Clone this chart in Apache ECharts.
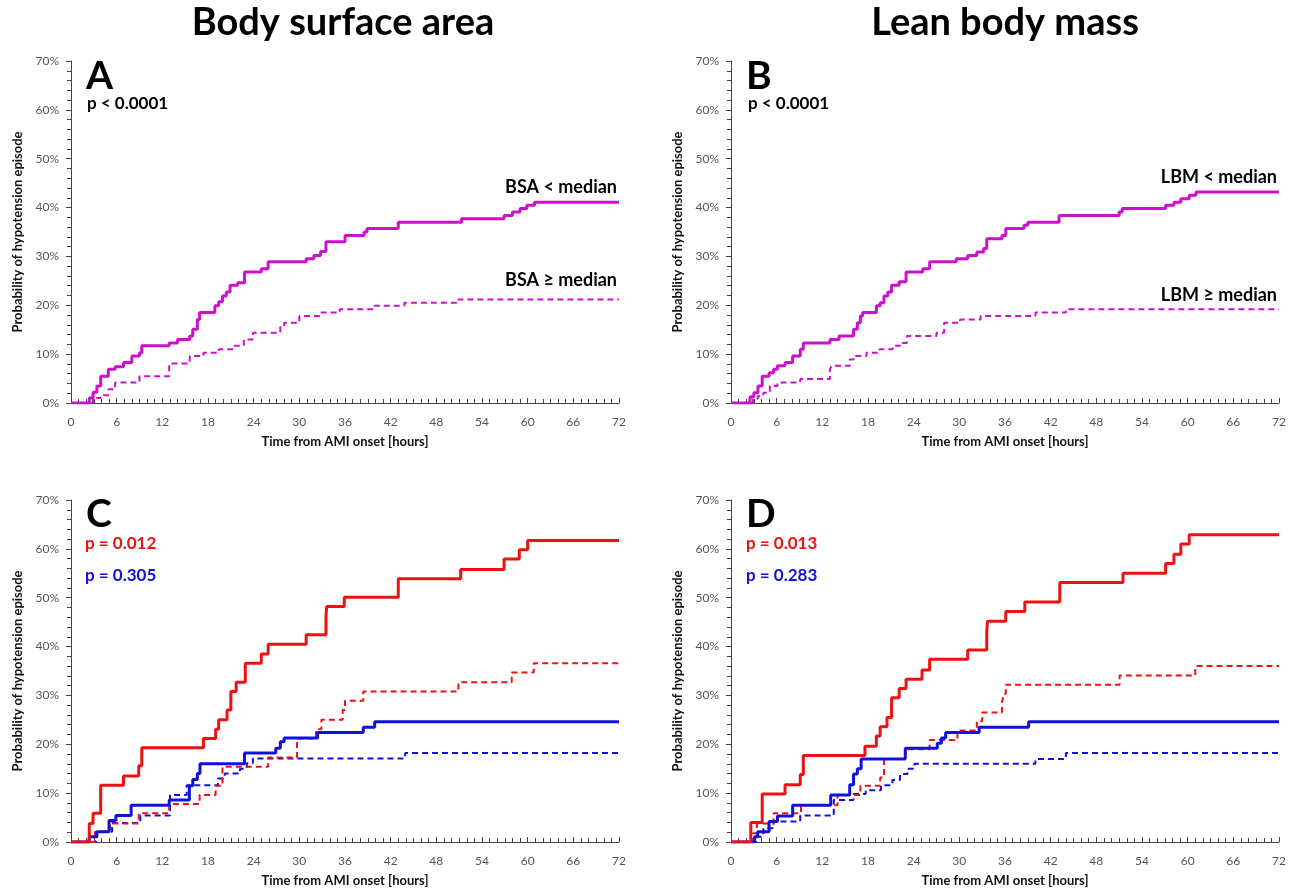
<!DOCTYPE html>
<html>
<head>
<meta charset="utf-8">
<script src="https://cdn.jsdelivr.net/npm/echarts@6/dist/echarts.min.js"></script>
<style>
  html, body { margin: 0; padding: 0; background: #fff; }
  #chart { width: 1298px; height: 888px; }
</style>
</head>
<body>
<div id="chart"></div>
<script>
// hours / cumulative probability (%)
// A: body surface area
const hoursBsaLow = [0, 2.4, 2.9, 3.4, 3.9, 4.9, 5.8, 6.9, 8.0, 9.0, 9.3, 12.9, 14.0, 15.6, 16.0, 16.6, 16.9, 18.9, 19.4, 19.9, 20.4, 20.9, 21.9, 22.8, 25.0, 25.9, 30.9, 31.9, 32.8, 33.5, 36.0, 38.5, 38.9, 43.0, 51.3, 56.9, 58.0, 59.0, 59.9, 60.9, 72];
const probBsaLow = [0, 1.0, 2.2, 3.5, 5.5, 6.9, 7.4, 8.3, 9.6, 10.3, 11.7, 12.3, 13.0, 13.7, 15.1, 17.1, 18.5, 19.9, 20.7, 21.9, 22.7, 24.1, 24.6, 26.8, 27.5, 28.9, 29.5, 30.2, 31.0, 33.0, 34.3, 35.0, 35.7, 37.0, 37.7, 38.4, 39.1, 39.8, 40.5, 41.1, 41.1];
const hoursBsaHigh = [0, 2.9, 3.9, 4.9, 5.8, 9.0, 12.9, 15.6, 17.4, 19.4, 21.2, 22.7, 23.9, 27.5, 28.0, 30.0, 32.6, 35.3, 39.9, 43.8, 50.9, 72];
const probBsaHigh = [0, 1.0, 1.6, 2.8, 4.2, 5.5, 8.1, 9.6, 10.3, 11.0, 11.7, 13.0, 14.4, 15.8, 16.4, 17.8, 18.5, 19.2, 19.9, 20.5, 21.2, 21.2];

// B: lean body mass
const hoursLbmLow = [0, 2.5, 3.0, 3.55, 4.1, 5.0, 5.6, 6.1, 7.1, 8.1, 9.1, 9.5, 13.0, 14.2, 16.1, 16.6, 17.0, 17.3, 19.1, 19.6, 20.1, 20.6, 21.1, 22.1, 23.0, 25.2, 26.1, 29.6, 31.1, 32.3, 33.2, 33.6, 35.6, 36.1, 38.5, 39.0, 43.1, 51.0, 51.4, 57.1, 58.2, 59.1, 60.2, 61.1, 72];
const probLbmLow = [0, 1.3, 2.1, 3.5, 5.5, 6.2, 6.9, 7.6, 8.3, 9.6, 11.0, 12.3, 13.0, 13.7, 15.1, 16.4, 17.8, 18.5, 19.9, 20.5, 21.9, 22.7, 24.1, 24.8, 26.8, 27.5, 28.9, 29.5, 30.2, 30.9, 31.6, 33.6, 34.3, 35.7, 36.4, 37.0, 38.4, 39.1, 39.8, 40.5, 41.1, 41.8, 42.5, 43.2, 43.2];
const hoursLbmHigh = [0, 2.9, 3.5, 4.25, 5.1, 6.1, 9.1, 13.0, 13.2, 15.6, 16.1, 17.8, 19.5, 21.25, 22.2, 23.1, 27.0, 28.0, 30.1, 32.8, 40.0, 44.0, 72];
const probLbmHigh = [0, 0.8, 1.4, 2.1, 3.5, 4.2, 4.9, 6.9, 7.6, 8.9, 9.6, 10.3, 11.0, 11.7, 12.3, 13.7, 14.4, 16.4, 17.1, 17.8, 18.5, 19.2, 19.2];

// C: BSA split by sex (red / blue)
const hoursC_redLow = [0, 2.4, 2.9, 3.9, 6.9, 8.9, 9.3, 17.4, 19.0, 19.4, 20.5, 21.0, 21.7, 22.9, 25.0, 25.9, 30.9, 33.5, 33.6, 35.9, 43.0, 51.2, 56.9, 58.9, 60.0, 72];
const probC_redLow = [0, 3.8, 5.9, 11.6, 13.5, 15.6, 19.3, 21.2, 23.1, 25.0, 27.0, 30.8, 32.7, 36.6, 38.5, 40.5, 42.4, 46.3, 48.2, 50.1, 53.9, 55.8, 57.9, 59.8, 61.7, 61.7];
const hoursC_redHigh = [0, 3.15, 5.1, 8.9, 12.9, 16.9, 19.0, 19.9, 25.9, 29.7, 32.2, 32.9, 35.7, 36.0, 38.4, 50.9, 57.9, 60.8, 72];
const probC_redHigh = [0, 2.1, 3.8, 5.9, 7.8, 9.6, 11.5, 15.4, 17.3, 21.2, 23.1, 25.0, 27.0, 28.9, 30.8, 32.7, 34.7, 36.6, 36.6];
const hoursC_blueLow = [0, 2.4, 3.4, 5.0, 5.9, 7.9, 12.9, 15.55, 16.0, 16.6, 16.95, 22.8, 26.9, 27.5, 28.0, 32.4, 38.4, 39.9, 72];
const probC_blueLow = [0, 1.1, 2.1, 4.4, 5.4, 7.5, 8.6, 11.5, 12.8, 14.0, 16.0, 18.2, 19.2, 20.5, 21.3, 22.4, 23.5, 24.6, 24.6];
const hoursC_blueHigh = [0, 3.4, 5.4, 9.1, 13.0, 15.2, 19.3, 20.2, 22.2, 23.1, 23.9, 43.9, 72];
const probC_blueHigh = [0, 2.1, 3.9, 5.4, 9.6, 11.6, 13.0, 14.0, 15.0, 16.1, 17.1, 18.2, 18.2];

// D: LBM split by sex
const hoursD_redLow = [0, 2.6, 4.1, 7.1, 9.1, 9.5, 17.6, 19.1, 19.6, 20.5, 21.1, 22.1, 23.0, 25.1, 26.1, 31.1, 33.6, 33.7, 36.1, 38.6, 43.2, 51.5, 57.1, 58.2, 59.1, 60.2, 72];
const probD_redLow = [0, 4.0, 9.8, 11.7, 13.8, 17.7, 19.6, 21.7, 23.6, 25.5, 29.5, 31.4, 33.3, 35.2, 37.4, 39.3, 43.1, 45.2, 47.2, 49.1, 53.1, 55.0, 57.0, 58.9, 61.0, 62.9, 62.9];
const hoursD_redHigh = [0, 2.9, 3.4, 5.6, 9.2, 14.0, 17.0, 19.6, 20.1, 22.9, 26.1, 29.75, 32.3, 33.0, 35.6, 35.8, 36.1, 51.05, 61.0, 72];
const probD_redHigh = [0, 1.8, 3.8, 5.9, 7.5, 9.6, 11.5, 13.2, 17.0, 19.0, 20.9, 22.8, 24.7, 26.5, 28.4, 30.3, 32.2, 34.1, 36.0, 36.0];
const hoursD_blueLow = [0, 3.1, 3.5, 5.0, 6.1, 8.1, 13.1, 15.6, 16.1, 16.6, 17.1, 22.9, 27.1, 27.65, 28.2, 32.6, 39.1, 72];
const probD_blueLow = [0, 1.1, 2.1, 4.2, 5.3, 7.5, 9.6, 11.7, 13.9, 15.0, 17.0, 19.2, 20.2, 21.3, 22.4, 23.5, 24.6, 24.6];
const hoursD_blueHigh = [0, 3.3, 4.25, 5.6, 9.1, 13.5, 16.1, 17.7, 19.7, 21.2, 22.2, 23.2, 24.1, 40.0, 44.0, 72];
const probD_blueHigh = [0, 1.1, 2.8, 4.2, 5.4, 8.6, 9.8, 10.6, 11.6, 12.7, 13.9, 15.0, 16.0, 17.0, 18.2, 18.2];

const FONT = "Lato, 'Noto Sans', sans-serif";
const MAGENTA = "#cc11cc";
const RED = "#ee1111";
const BLUE = "#1111dd";

const grids = [
  { left: 71, top: 61, width: 548, height: 342 },
  { left: 731, top: 61, width: 548, height: 342 },
  { left: 71, top: 500, width: 548, height: 342 },
  { left: 731, top: 500, width: 548, height: 342 }
];

function zip(t, p) {
  return t.map((h, i) => [h, p[i]]);
}

function xAxisFor(i) {
  return {
    gridIndex: i,
    type: "value",
    min: 0,
    max: 72,
    interval: 6,
    name: "Time from AMI onset [hours]",
    nameLocation: "middle",
    nameGap: 32,
    nameTextStyle: { fontFamily: FONT, fontWeight: "bold", fontSize: 13, color: "#111" },
    axisLine: { lineStyle: { color: "#444", width: 1 } },
    axisTick: { inside: true, length: 5, lineStyle: { color: "#444" } },
    minorTick: { show: true, splitNumber: 6, length: 4, lineStyle: { color: "#444" } },
    axisLabel: { fontFamily: FONT, fontSize: 12, color: "#555", margin: 13 },
    splitLine: { show: false }
  };
}

function yAxisFor(i) {
  return {
    gridIndex: i,
    type: "value",
    min: 0,
    max: 70,
    interval: 10,
    name: "Probability of hypotension episode",
    nameLocation: "middle",
    nameRotate: 90,
    nameGap: 47,
    nameTextStyle: { fontFamily: FONT, fontWeight: "bold", fontSize: 13, color: "#111" },
    axisLine: { show: true, lineStyle: { color: "#444", width: 1 } },
    axisTick: { show: true, length: 5, lineStyle: { color: "#444" } },
    minorTick: { show: true, splitNumber: 5, length: 4, lineStyle: { color: "#444" } },
    axisLabel: { fontFamily: FONT, fontSize: 12, color: "#555", margin: 12, formatter: "{value}%" },
    splitLine: { show: false }
  };
}

function curve(i, t, p, color, dashed) {
  return {
    type: "line",
    xAxisIndex: i,
    yAxisIndex: i,
    step: "end",
    symbol: "none",
    data: zip(t, p),
    lineStyle: {
      color: color,
      width: dashed ? 2 : 3,
      type: dashed ? [6, 4] : "solid"
    },
    z: dashed ? 2 : 3
  };
}

function label(text, x, y, size, color, align) {
  return {
    type: "text",
    style: {
      text: text,
      x: x,
      y: y,
      fill: color || "#000",
      font: "bold " + size + "px " + FONT,
      textAlign: align || "left",
      textVerticalAlign: "middle"
    }
  };
}

const chart = echarts.init(document.getElementById("chart"));
chart.setOption({
  animation: false,
  backgroundColor: "#fff",
  grid: grids,
  xAxis: [0, 1, 2, 3].map(xAxisFor),
  yAxis: [0, 1, 2, 3].map(yAxisFor),
  series: [
    curve(0, hoursBsaHigh, probBsaHigh, MAGENTA, true),
    curve(0, hoursBsaLow, probBsaLow, MAGENTA, false),
    curve(1, hoursLbmHigh, probLbmHigh, MAGENTA, true),
    curve(1, hoursLbmLow, probLbmLow, MAGENTA, false),
    curve(2, hoursC_blueHigh, probC_blueHigh, BLUE, true),
    curve(2, hoursC_redHigh, probC_redHigh, RED, true),
    curve(2, hoursC_blueLow, probC_blueLow, BLUE, false),
    curve(2, hoursC_redLow, probC_redLow, RED, false),
    curve(3, hoursD_blueHigh, probD_blueHigh, BLUE, true),
    curve(3, hoursD_redHigh, probD_redHigh, RED, true),
    curve(3, hoursD_blueLow, probD_blueLow, BLUE, false),
    curve(3, hoursD_redLow, probD_redLow, RED, false)
  ],
  graphic: [
    label("Body surface area", 343, 23, 38, "#000", "center"),
    label("Lean body mass", 1005, 23, 38, "#000", "center"),
    label("A", 86, 76, 39),
    label("B", 746, 76, 39),
    label("C", 86, 514, 39),
    label("D", 746, 514, 39),
    label("p < 0.0001", 87, 104, 17),
    label("p < 0.0001", 748, 104, 17),
    label("BSA < median", 617, 187, 18, "#000", "right"),
    label("BSA \u2265 median", 617, 280, 18, "#000", "right"),
    label("LBM < median", 1277, 177, 18, "#000", "right"),
    label("LBM \u2265 median", 1277, 295, 18, "#000", "right"),
    label("p = 0.012", 85, 544, 17, RED),
    label("p = 0.305", 85, 576, 17, BLUE),
    label("p = 0.013", 746, 544, 17, RED),
    label("p = 0.283", 746, 576, 17, BLUE)
  ]
});
</script>
</body>
</html>
